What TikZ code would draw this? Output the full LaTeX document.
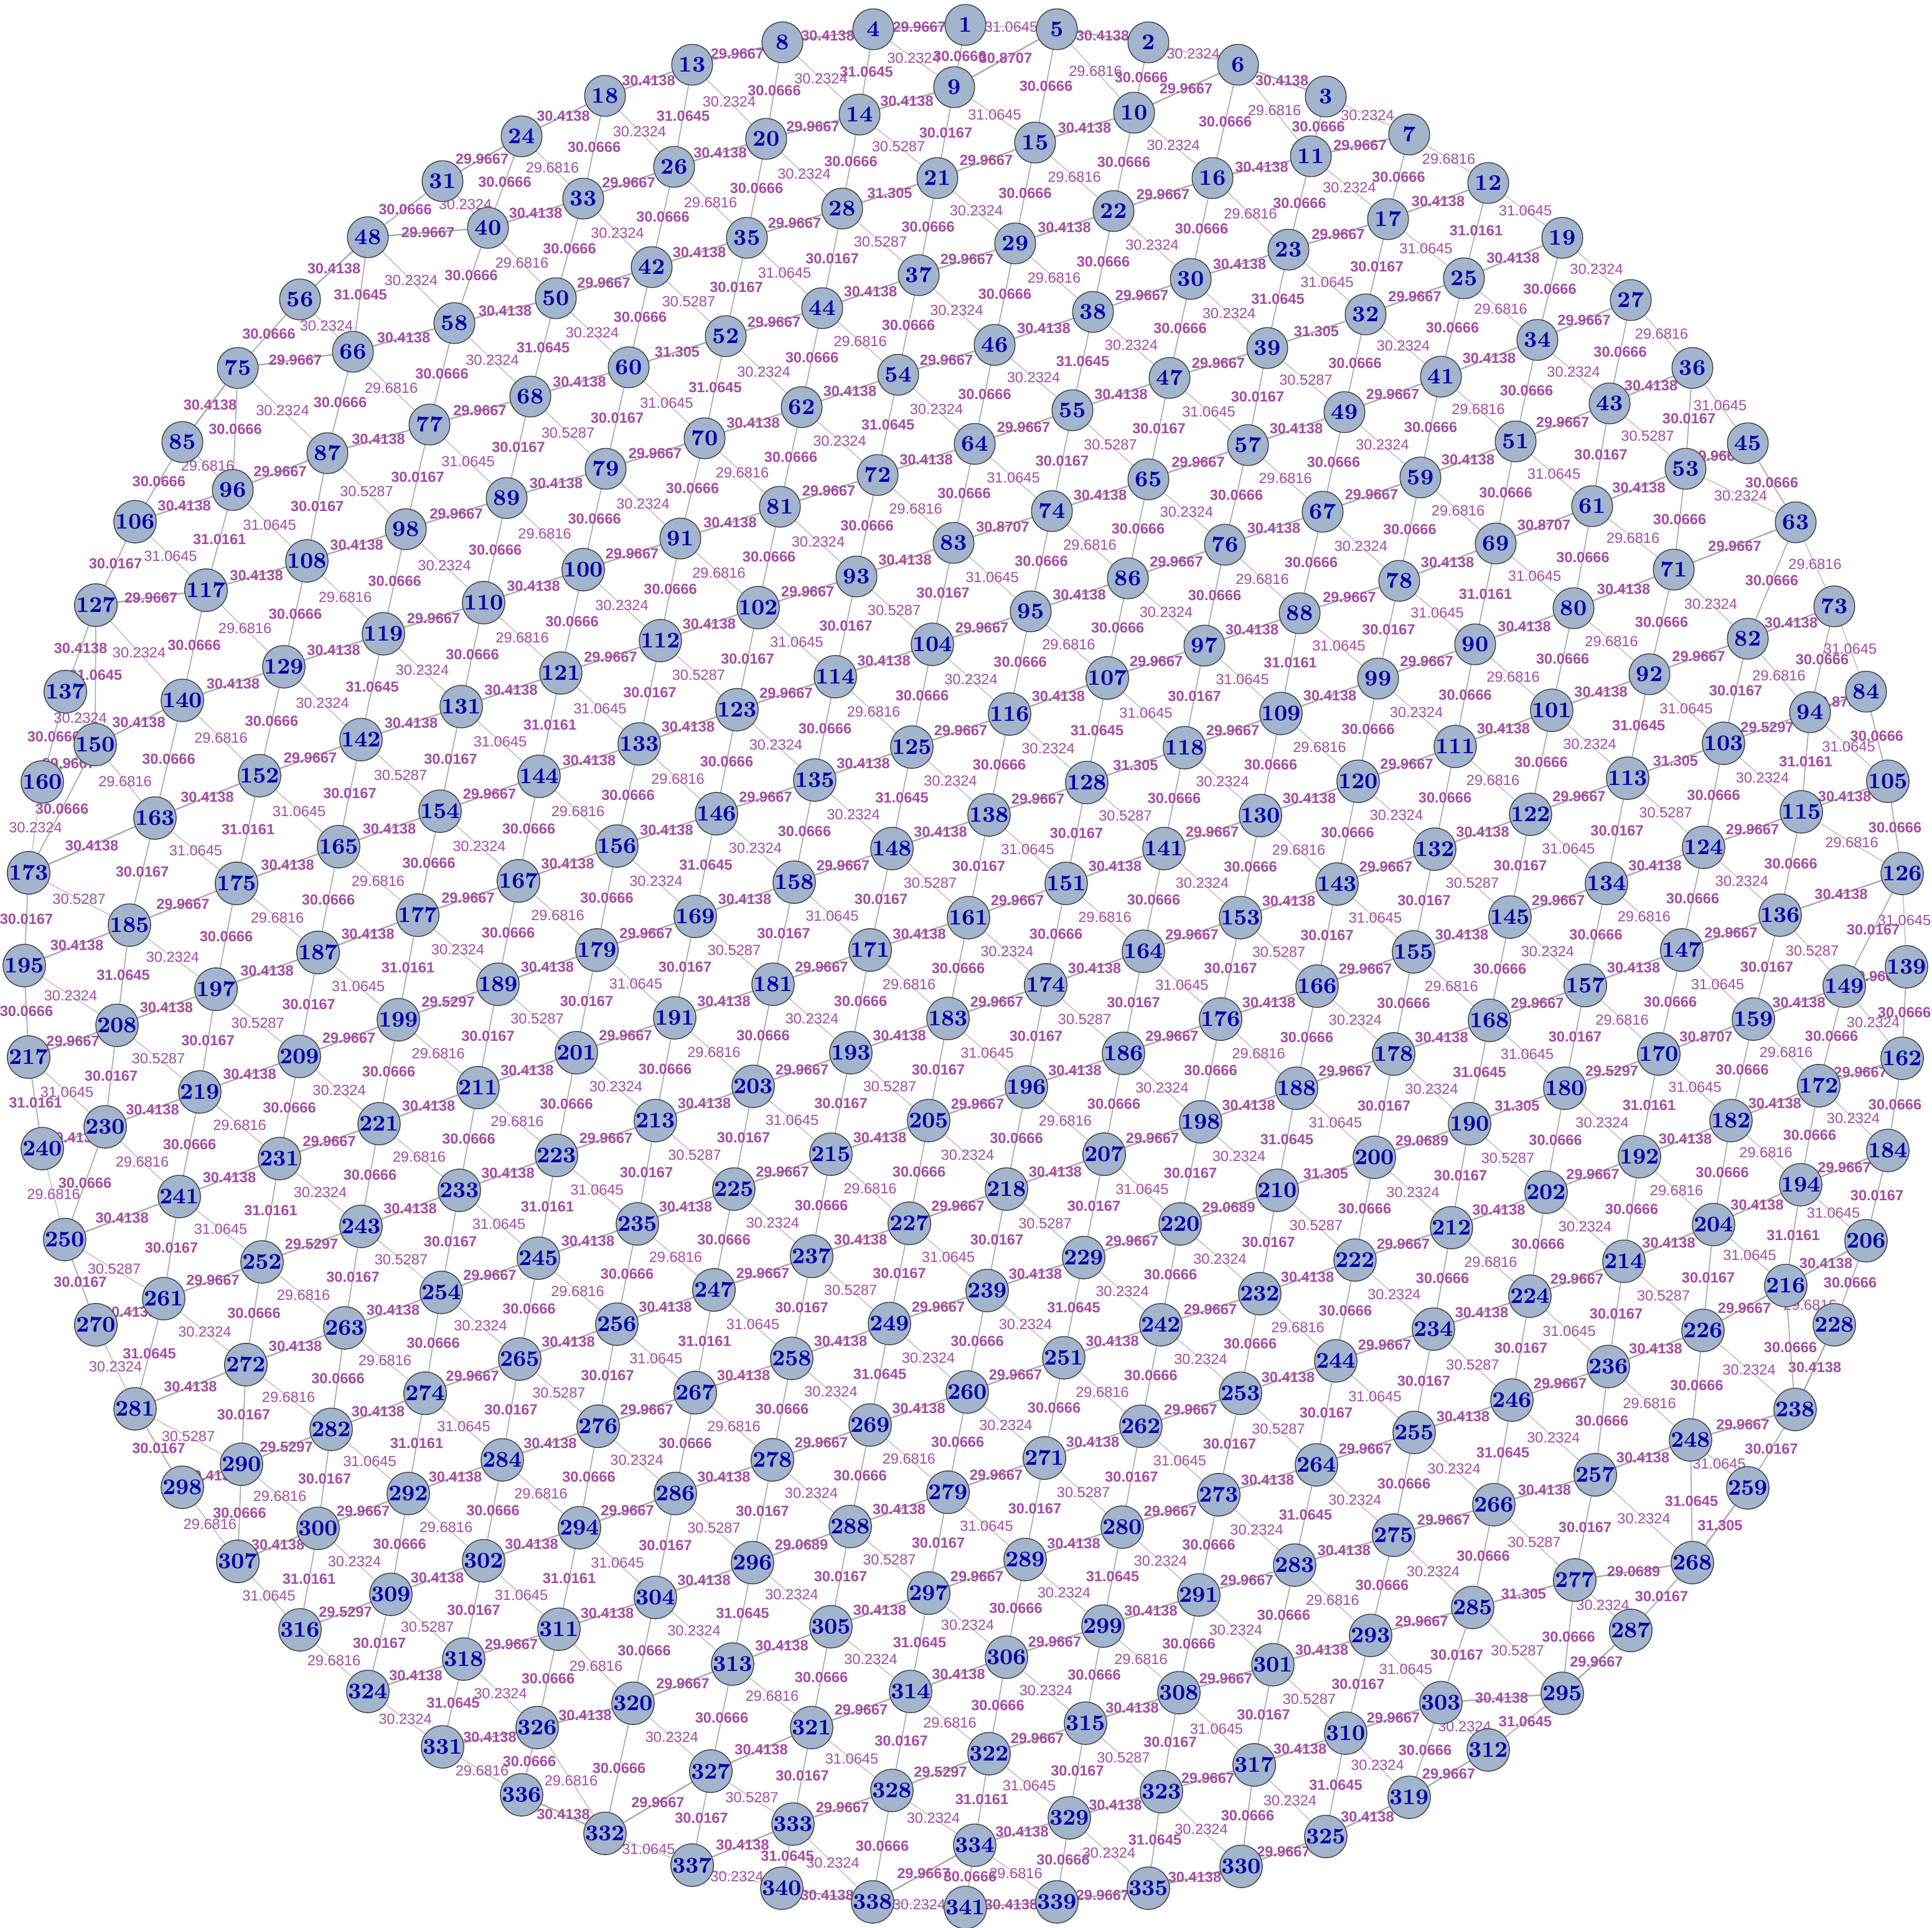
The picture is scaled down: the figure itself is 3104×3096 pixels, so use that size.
\documentclass[tikz,border=0pt]{standalone}
\usepackage{fontspec}
\newfontfamily\labfont{Liberation Sans}
\pgfdeclarelayer{edgelayer}
\pgfsetlayers{edgelayer,main}
\definecolor{vfill}{RGB}{163,180,205}
\definecolor{vtext}{RGB}{0,0,165}
\definecolor{labcol}{RGB}{163,75,165}
\definecolor{ecolA}{RGB}{165,165,165}
\definecolor{ecolB}{RGB}{178,178,178}
\def\lblA{29.9667}\def\lblB{30.4138}\def\lblC{30.0666}\def\lblD{30.0167}
\def\lblE{30.2324}\def\lblF{29.6816}\def\lblG{30.5287}\def\lblH{31.0645}
\def\lblI{31.0161}\def\lblJ{31.305}\def\lblK{30.8707}\def\lblL{29.5297}\def\lblM{29.0689}
\tikzset{
  vx/.style={circle,draw=black!75,line width=0.35pt,fill=vfill,minimum size=16.4pt,inner sep=0pt,
    text=vtext,font=\fontsize{9}{9}\selectfont\bfseries},
  uedge/.style={draw=ecolA,line width=0.55pt},
  vedge/.style={draw=ecolA,line width=0.4pt},
  wedge/.style={draw=ecolB,line width=0.3pt},
  lbold/.style={font=\labfont\fontsize{5.9}{5.9}\selectfont\bfseries,text=labcol,inner sep=0pt},
  lthin/.style={font=\labfont\fontsize{5.9}{5.9}\selectfont,text=labcol,inner sep=0pt}
}
\begin{document}
\begin{tikzpicture}[x=0.25pt,y=-0.25pt]
\useasboundingbox (0,0) rectangle (3104,3096);
\foreach \n/\x/\y in {1/1551/40,2/1845/68,3/2130/155,4/1403/47,5/1698/47,6/1989/104,7/2264/216,8/1257/68,9/1533/140,10/1822/181,
11/2106/251,12/2391/294,13/1112/104,14/1381/184,15/1663/229,16/1948/286,17/2230/352,18/972/154,19/2510/382,20/1231/223,
21/1506/286,22/1789/339,23/2070/401,24/838/219,25/2352/447,26/1083/268,27/2620/482,28/1353/335,29/1631/391,30/1913/448,
31/711/291,32/2194/505,33/937/319,34/2470/546,35/1200/382,36/2719/591,37/1476/442,38/1756/501,39/2036/559,40/784/366,
41/2315/605,42/1047/429,43/2586/648,44/1321/495,45/2808/712,46/1598/554,47/1879/607,48/591/381,49/2160/662,50/893/479,
51/2435/709,52/1166/540,53/2708/753,54/1443/602,55/1723/659,56/482/481,57/2005/715,58/730/519,59/2282/767,60/1010/590,
61/2558/813,62/1288/654,63/2885/839,64/1566/713,65/1845/770,66/567/565,67/2125/822,68/852/637,69/2403/873,70/1132/704,
71/2689/915,72/1410/763,73/2947/974,74/1690/821,75/382/591,76/1968/875,77/690/682,78/2248/933,79/973/753,80/2528/977,
81/1253/814,82/2808/1026,83/1532/872,84/2998/1111,85/293/710,86/1812/929,87/526/728,88/2088/985,89/814/800,90/2370/1035,
91/1093/865,92/2650/1083,93/1376/926,94/2908/1144,95/1656/982,96/374/787,97/1935/1037,98/652/850,99/2214/1090,100/937/915,
101/2493/1141,102/1218/976,103/2769/1194,104/1498/1035,105/3033/1255,106/217/838,107/1779/1089,108/493/901,109/2058/1146,110/777/968,
111/2338/1199,112/1061/1029,113/2615/1250,114/1342/1087,115/2894/1304,116/1622/1147,117/331/948,118/1903/1201,119/616/1018,120/2182/1255,
121/901/1081,122/2459/1308,123/1184/1140,124/2737/1361,125/1465/1200,126/3056/1403,127/154/972,128/1746/1257,129/456/1071,130/2025/1310,
131/741/1135,132/2305/1364,133/1027/1195,134/2581/1419,135/1309/1253,136/2860/1470,137/105/1111,138/1589/1309,139/3063/1553,140/293/1125,
141/1870/1363,142/580/1188,143/2148/1420,144/866/1247,145/2426/1473,146/1151/1307,147/2702/1526,148/1433/1363,149/2963/1584,150/153/1196,
151/1713/1419,152/417/1246,153/1993/1474,154/707/1303,155/2271/1529,156/991/1359,157/2547/1583,158/1276/1417,159/2817/1637,160/68/1256,
161/1556/1474,162/3056/1700,163/249/1314,164/1837/1528,165/544/1360,166/2116/1584,167/833/1415,168/2393/1639,169/1117/1472,170/2665/1693,
171/1398/1526,172/2922/1744,173/46/1402,174/1680/1582,175/380/1419,176/1961/1637,177/671/1470,178/2239/1693,179/959/1526,180/2514/1748,
181/1242/1581,182/2781/1800,183/1523/1636,184/3033/1848,185/208/1486,186/1805/1692,187/511/1530,188/2083/1748,189/800/1581,190/2361/1805,
191/1084/1635,192/2634/1858,193/1367/1691,194/2893/1903,195/39/1551,196/1649/1746,197/347/1589,198/1929/1802,199/640/1638,200/2208/1859,
201/926/1691,202/2484/1915,203/1210/1745,204/2753/1967,205/1492/1800,206/2998/1993,207/1774/1854,208/188/1647,209/481/1697,210/2052/1912,
211/768/1747,212/2332/1972,213/1053/1800,214/2609/2026,215/1335/1854,216/2869/2065,217/46/1698,218/1617/1910,219/321/1754,220/1896/1966,
221/609/1805,222/2177/2024,223/894/1856,224/2458/2082,225/1179/1910,226/2736/2137,227/1461/1965,228/2947/2128,229/1741/2020,230/169/1810,
231/449/1861,232/2024/2078,233/738/1912,234/2303/2135,235/1024/1966,236/2584/2195,237/1304/2018,238/2884/2264,239/1586/2073,240/68/1845,
241/288/1922,242/1865/2128,243/580/1970,244/2146/2186,245/865/2021,246/2429/2249,247/1147/2072,248/2716/2313,249/1429/2126,250/104/1991,
251/1709/2181,252/421/2027,253/1993/2238,254/709/2076,255/2272/2301,256/991/2127,257/2563/2369,258/1272/2182,259/2808/2390,260/1554/2236,
261/263/2086,262/1833/2291,263/554/2133,264/2115/2353,265/835/2183,266/2400/2417,267/1117/2237,268/2719/2510,269/1398/2289,270/154/2128,
271/1678/2342,272/395/2192,273/1958/2401,274/683/2238,275/2239/2466,276/961/2291,277/2530/2538,278/1241/2345,279/1523/2397,280/1803/2453,
281/217/2263,282/532/2296,283/2080/2514,284/807/2345,285/2366/2582,286/1085/2399,287/2620/2619,288/1366/2452,289/1647/2505,290/388/2352,
291/1926/2562,292/656/2399,293/2202/2627,294/931/2454,295/2510/2720,296/1209/2510,297/1492/2559,298/293/2389,299/1772/2612,300/511/2455,
301/2045/2674,302/777/2507,303/2315/2735,304/1053/2566,305/1335/2613,306/1617/2662,307/382/2508,308/1894/2719,309/628/2561,310/2162/2784,
311/898/2617,312/2391/2811,313/1177/2673,314/1463/2717,315/1744/2768,316/482/2618,317/2015/2835,318/745/2665,319/2264/2887,320/1017/2736,
321/1304/2775,322/1589/2817,323/1866/2878,324/591/2717,325/2130/2950,326/863/2775,327/1142/2845,328/1433/2876,329/1718/2920,330/1994/2998,
331/711/2806,332/972/2945,333/1274/2930,334/1566/2964,335/1845/3033,336/838/2883,337/1112/2996,338/1402/3055,339/1698/3055,340/1256/3033,
341/1551/3064}
  \node[vx] (n\n) at (\x,\y) {\n};
\begin{pgfonlayer}{edgelayer}
% u-direction edges
\foreach \a/\b/\c in {31/24/A,24/18/B,18/13/B,13/8/A,8/4/B,4/1/A,
56/48/B,48/40/A,40/33/B,33/26/A,26/20/B,20/14/A,14/9/B,9/5/K,5/2/B,
85/75/B,75/66/A,66/58/B,58/50/B,50/42/A,42/35/B,35/28/A,28/21/J,21/15/A,15/10/B,10/6/A,6/3/B,
106/96/B,96/87/A,87/77/B,77/68/A,68/60/B,60/52/J,52/44/A,44/37/B,37/29/A,29/22/B,22/16/A,16/11/B,11/7/A,
127/117/A,117/108/B,108/98/B,98/89/A,89/79/B,79/70/A,70/62/B,62/54/B,54/46/A,46/38/B,38/30/A,30/23/B,23/17/A,17/12/B,
150/140/B,140/129/B,129/119/B,119/110/A,110/100/B,100/91/A,91/81/B,81/72/A,72/64/B,64/55/A,55/47/B,47/39/A,39/32/J,32/25/A,25/19/B,
173/163/B,163/152/B,152/142/A,142/131/B,131/121/B,121/112/A,112/102/B,102/93/A,93/83/B,83/74/K,74/65/B,65/57/A,57/49/B,49/41/A,41/34/B,34/27/A,
195/185/B,185/175/A,175/165/B,165/154/B,154/144/A,144/133/B,133/123/B,123/114/A,114/104/B,104/95/A,95/86/B,86/76/A,76/67/B,67/59/A,59/51/B,51/43/A,43/36/B,
217/208/A,208/197/B,197/187/B,187/177/B,177/167/A,167/156/B,156/146/B,146/135/A,135/125/B,125/116/A,116/107/B,107/97/A,97/88/B,88/78/A,78/69/B,69/61/K,61/53/B,53/45/A,
240/230/B,230/219/B,219/209/B,209/199/A,199/189/L,189/179/B,179/169/A,169/158/B,158/148/A,148/138/B,138/128/A,128/118/J,118/109/A,109/99/B,99/90/A,90/80/B,80/71/B,71/63/A,
250/241/B,241/231/B,231/221/A,221/211/B,211/201/B,201/191/A,191/181/B,181/171/A,171/161/B,161/151/A,151/141/B,141/130/A,130/120/B,120/111/A,111/101/B,101/92/B,92/82/A,82/73/B,
270/261/B,261/252/A,252/243/L,243/233/B,233/223/B,223/213/A,213/203/B,203/193/A,193/183/B,183/174/A,174/164/B,164/153/A,153/143/B,143/132/A,132/122/B,122/113/A,113/103/J,103/94/L,94/84/K,
281/272/B,272/263/B,263/254/B,254/245/A,245/235/B,235/225/B,225/215/A,215/205/B,205/196/A,196/186/B,186/176/A,176/166/B,166/155/A,155/145/B,145/134/A,134/124/B,124/115/A,115/105/B,
298/290/B,290/282/L,282/274/B,274/265/A,265/256/B,256/247/B,247/237/A,237/227/B,227/218/A,218/207/B,207/198/A,198/188/B,188/178/A,178/168/B,168/157/A,157/147/B,147/136/A,136/126/B,
307/300/B,300/292/A,292/284/B,284/276/B,276/267/A,267/258/B,258/249/B,249/239/A,239/229/B,229/220/A,220/210/M,210/200/J,200/190/M,190/180/J,180/170/L,170/159/K,159/149/B,149/139/A,
316/309/L,309/302/B,302/294/B,294/286/A,286/278/B,278/269/A,269/260/B,260/251/A,251/242/B,242/232/A,232/222/B,222/212/A,212/202/B,202/192/A,192/182/B,182/172/B,172/162/A,
324/318/B,318/311/A,311/304/B,304/296/B,296/288/M,288/279/B,279/271/A,271/262/B,262/253/A,253/244/B,244/234/A,234/224/B,224/214/A,214/204/B,204/194/B,194/184/A,
331/326/B,326/320/B,320/313/A,313/305/B,305/297/B,297/289/A,289/280/B,280/273/A,273/264/B,264/255/A,255/246/B,246/236/A,236/226/B,226/216/A,216/206/B,
336/332/B,332/327/A,327/321/B,321/314/A,314/306/B,306/299/A,299/291/B,291/283/A,283/275/B,275/266/A,266/257/B,257/248/B,248/238/A,238/228/B,
337/333/B,333/328/A,328/322/L,322/315/A,315/308/B,308/301/A,301/293/B,293/285/A,285/277/J,277/268/M,268/259/J,
340/338/B,338/334/A,334/329/B,329/323/B,323/317/A,317/310/B,310/303/A,303/295/B,295/287/A,
341/339/B,339/335/A,335/330/B,330/325/A,325/319/B,319/312/A,160/150/A}
  \draw[uedge] (n\a) -- (n\b) node[lbold,midway]{\csname lbl\c\endcsname};
% v-direction edges
\foreach \a/\b/\c in {31/48/C,24/40/C,18/33/C,13/26/H,8/20/C,4/14/H,1/9/C,
56/75/C,48/66/H,40/58/C,33/50/C,26/42/C,20/35/C,14/28/C,9/21/D,5/15/C,2/10/C,
85/106/C,75/96/C,66/87/C,58/77/C,50/68/H,42/60/C,35/52/D,28/44/D,21/37/C,15/29/C,10/22/C,6/16/C,3/11/C,
106/127/D,96/117/I,87/108/D,77/98/D,68/89/D,60/79/D,52/70/H,44/62/C,37/54/C,29/46/C,22/38/C,16/30/C,11/23/C,7/17/C,
127/150/H,117/140/C,108/129/C,98/119/C,89/110/C,79/100/C,70/91/C,62/81/C,54/72/H,46/64/C,38/55/H,30/47/C,23/39/H,17/32/D,12/25/I,
150/173/C,140/163/C,129/152/C,119/142/H,110/131/C,100/121/C,91/112/C,81/102/C,72/93/C,64/83/C,55/74/D,47/65/D,39/57/D,32/49/C,25/41/C,19/34/C,
173/195/D,163/185/D,152/175/I,142/165/D,131/154/D,121/144/I,112/133/D,102/123/D,93/114/D,83/104/D,74/95/C,65/86/C,57/76/C,49/67/C,41/59/C,34/51/C,27/43/C,
195/217/C,185/208/H,175/197/C,165/187/C,154/177/C,144/167/C,133/156/C,123/146/C,114/135/C,104/125/C,95/116/C,86/107/C,76/97/C,67/88/C,59/78/C,51/69/C,43/61/D,36/53/D,
217/240/I,208/230/D,197/219/D,187/209/D,177/199/I,167/189/C,156/179/C,146/169/H,135/158/C,125/148/H,116/138/C,107/128/H,97/118/D,88/109/I,78/99/D,69/90/I,61/80/C,53/71/C,45/63/C,
230/250/C,219/241/C,209/231/C,199/221/C,189/211/D,179/201/D,169/191/D,158/181/D,148/171/D,138/161/D,128/151/D,118/141/C,109/130/C,99/120/C,90/111/C,80/101/C,71/92/C,63/82/C,
250/270/D,241/261/D,231/252/I,221/243/C,211/233/C,201/223/C,191/213/C,181/203/C,171/193/C,161/183/C,151/174/C,141/164/C,130/153/C,120/143/C,111/132/C,101/122/C,92/113/H,82/103/D,73/94/C,
261/281/H,252/272/C,243/263/D,233/254/D,223/245/I,213/235/D,203/225/D,193/215/D,183/205/D,174/196/D,164/186/D,153/176/D,143/166/D,132/155/D,122/145/D,113/134/D,103/124/C,94/115/I,84/105/C,
281/298/D,272/290/D,263/282/C,254/274/C,245/265/C,235/256/C,225/247/C,215/237/C,205/227/C,196/218/C,186/207/C,176/198/C,166/188/C,155/178/C,145/168/C,134/157/C,124/147/C,115/136/C,105/126/C,
290/307/C,282/300/D,274/292/I,265/284/D,256/276/D,247/267/I,237/258/D,227/249/D,218/239/D,207/229/D,198/220/D,188/210/H,178/200/D,168/190/H,157/180/D,147/170/C,136/159/D,126/149/D,
300/316/I,292/309/C,284/302/C,276/294/C,267/286/C,258/278/C,249/269/H,239/260/C,229/251/H,220/242/C,210/232/D,200/222/C,190/212/D,180/202/C,170/192/I,159/182/C,149/172/C,139/162/C,
309/324/D,302/318/D,294/311/I,286/304/D,278/296/D,269/288/C,260/279/C,251/271/C,242/262/C,232/253/C,222/244/C,212/234/C,202/224/C,192/214/C,182/204/C,172/194/C,162/184/C,
318/331/H,311/326/C,304/320/C,296/313/H,288/305/D,279/297/D,271/289/D,262/280/D,253/273/D,244/264/D,234/255/D,224/246/D,214/236/D,204/226/D,194/216/I,184/206/D,
326/336/C,320/332/C,313/327/C,305/321/C,297/314/H,289/306/C,280/299/H,273/291/C,264/283/H,255/275/C,246/266/H,236/257/C,226/248/C,216/238/C,206/228/C,
327/337/D,321/333/D,314/328/D,306/322/C,299/315/C,291/308/C,283/301/C,275/293/C,266/285/C,257/277/D,248/268/H,238/259/D,
333/340/H,328/338/C,322/334/I,315/329/D,308/323/D,301/317/D,293/310/D,285/303/D,277/295/C,268/287/D,
334/341/C,329/339/C,323/335/H,317/330/C,310/325/H,303/319/C,295/312/H,127/137/B,137/160/C}
  \draw[vedge] (n\a) -- (n\b) node[lbold,midway]{\csname lbl\c\endcsname};
% w-direction edges
\foreach \a/\b/\c in {31/40/E,24/33/F,18/26/E,13/20/E,8/14/E,4/9/E,1/5/H,
56/66/E,48/58/E,40/50/F,33/42/E,26/35/F,20/28/E,14/21/G,9/15/H,5/10/F,2/6/E,
85/96/F,75/87/E,66/77/F,58/68/E,50/60/E,42/52/G,35/44/H,28/37/G,21/29/E,15/22/F,10/16/E,6/11/F,3/7/E,
106/117/H,96/108/H,87/98/G,77/89/H,68/79/G,60/70/H,52/62/E,44/54/F,37/46/E,29/38/F,22/30/E,16/23/F,11/17/E,7/12/F,
127/140/E,117/129/F,108/119/F,98/110/E,89/100/F,79/91/E,70/81/F,62/72/E,54/64/E,46/55/E,38/47/E,30/39/E,23/32/H,17/25/H,12/19/H,
150/163/F,140/152/F,129/142/E,119/131/E,110/121/F,100/112/E,91/102/F,81/93/E,72/83/F,64/74/H,55/65/G,47/57/H,39/49/G,32/41/E,25/34/F,19/27/E,
173/185/G,163/175/H,152/165/H,142/154/G,131/144/H,121/133/H,112/123/G,102/114/H,93/104/G,83/95/H,74/86/F,65/76/E,57/67/F,49/59/E,41/51/F,34/43/E,27/36/F,
195/208/E,185/197/E,175/187/F,165/177/F,154/167/E,144/156/F,133/146/F,123/135/E,114/125/F,104/116/E,95/107/F,86/97/E,76/88/F,67/78/E,59/69/F,51/61/H,43/53/G,36/45/H,
217/230/H,208/219/G,197/209/G,187/199/H,177/189/E,167/179/F,156/169/E,146/158/E,135/148/E,125/138/E,116/128/E,107/118/H,97/109/H,88/99/H,78/90/H,69/80/H,61/71/F,53/63/E,
240/250/F,230/241/F,219/231/F,209/221/E,199/211/F,189/201/G,179/191/H,169/181/G,158/171/H,148/161/G,138/151/H,128/141/G,118/130/E,109/120/F,99/111/E,90/101/F,80/92/F,71/82/E,63/73/F,
250/261/G,241/252/H,231/243/E,221/233/F,211/223/F,201/213/E,191/203/F,181/193/E,171/183/F,161/174/E,151/164/F,141/153/E,130/143/F,120/132/E,111/122/F,101/113/E,92/103/H,82/94/F,73/84/H,
270/281/E,261/272/E,252/263/F,243/254/G,233/245/H,223/235/H,213/225/G,203/215/H,193/205/G,183/196/H,174/186/G,164/176/H,153/166/G,143/155/H,132/145/G,122/134/H,113/124/G,103/115/E,94/105/H,
281/290/G,272/282/F,263/274/F,254/265/E,245/256/F,235/247/F,225/237/E,215/227/F,205/218/E,196/207/F,186/198/E,176/188/F,166/178/E,155/168/F,145/157/E,134/147/F,124/136/E,115/126/F,
298/307/F,290/300/F,282/292/H,274/284/H,265/276/G,256/267/H,247/258/H,237/249/G,227/239/H,218/229/G,207/220/H,198/210/E,188/200/H,178/190/E,168/180/H,157/170/F,147/159/H,136/149/G,126/139/H,
307/316/H,300/309/E,292/302/F,284/294/F,276/286/E,267/278/F,258/269/E,249/260/E,239/251/E,229/242/E,220/232/E,210/222/G,200/212/E,190/202/G,180/192/E,170/182/H,159/172/F,149/162/E,
316/324/F,309/318/G,302/311/H,294/304/H,286/296/G,278/288/E,269/279/F,260/271/E,251/262/F,242/253/E,232/244/F,222/234/E,212/224/F,202/214/E,192/204/F,182/194/F,172/184/E,
324/331/E,318/326/E,311/320/F,304/313/E,296/305/E,288/297/G,279/289/H,271/280/G,262/273/H,253/264/G,244/255/H,234/246/G,224/236/H,214/226/G,204/216/H,194/206/H,
331/336/F,326/332/F,320/327/E,313/321/F,305/314/E,297/306/E,289/299/E,280/291/E,273/283/E,264/275/E,255/266/E,246/257/E,236/248/F,226/238/E,216/228/F,
332/337/H,327/333/G,321/328/H,314/322/F,306/315/E,299/308/F,291/301/E,283/293/F,275/285/E,266/277/G,257/268/E,248/259/H,
337/340/E,333/338/E,328/334/E,322/329/H,315/323/G,308/317/H,301/310/G,293/303/H,285/295/G,277/287/E,
338/341/E,334/339/F,329/335/E,323/330/E,317/325/E,310/319/E,303/312/E,137/150/E,160/173/E}
  \draw[wedge] (n\a) -- (n\b) node[lthin,midway]{\csname lbl\c\endcsname};
\end{pgfonlayer}
\end{tikzpicture}
\end{document}
